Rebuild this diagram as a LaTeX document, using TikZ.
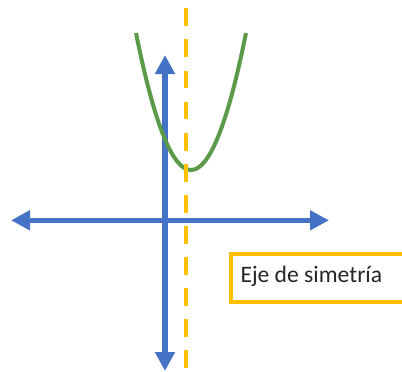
\documentclass[tikz,border=0pt]{standalone}
\usepackage{fontspec}
\setmainfont{Carlito}
\usetikzlibrary{arrows.meta}
\definecolor{axisblue}{HTML}{4472C4}
\definecolor{symorange}{HTML}{FFC000}
\definecolor{curvegreen}{HTML}{5A9A48}
\definecolor{textgray}{HTML}{262626}
\tikzset{
  axisline/.style={axisblue, line width=5.5pt,
    {Triangle[length=19pt,width=19pt]}-{Triangle[length=19pt,width=19pt]}},
  curveline/.style={curvegreen, line width=4pt},
  symline/.style={symorange, line width=4pt, dash pattern=on 17.8pt off 13.3pt},
  labelbox/.style={symorange, line width=4pt},
  labeltext/.style={text=textgray, font=\fontsize{23.6}{28}\selectfont, inner sep=0pt, anchor=base west}
}
\begin{document}
\begin{tikzpicture}[x=1pt,y=-1pt]
\useasboundingbox (0,0) rectangle (402,372);
% axes
\coordinate (yb) at (165,371);
\coordinate (yt) at (165,55);
\coordinate (xl) at (11,220.3);
\coordinate (xr) at (329,220.3);
\draw[axisline] (yb) -- (yt);
\draw[axisline] (xl) -- (xr);
% parabola
\coordinate (pl) at (136,33);
\coordinate (pr) at (246,33);
\draw[curveline] (pl) .. controls (172.7,215.7) and (209.3,215.7) .. (pr);
% axis of symmetry
\coordinate (st) at (186,8.3);
\coordinate (sb) at (186,368);
\draw[symline] (st) -- (sb);
% label
\draw[labelbox] (230.5,253.5) rectangle (412,302);
\node[labeltext] (lbl) at (240.3,282.3) {Eje de simetría};
\end{tikzpicture}
\end{document}
